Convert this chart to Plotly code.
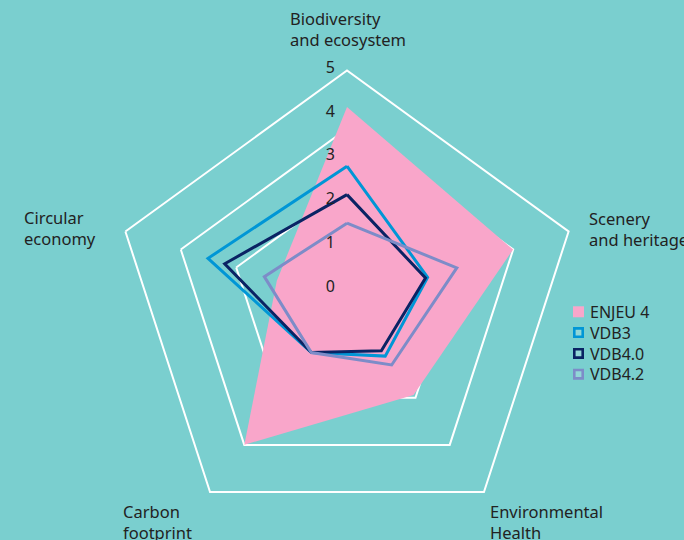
import plotly.graph_objects as go

# ---------------- data ----------------
categories = ["Biodiversity and ecosystem", "Scenery and heritage",
              "Environmental Health", "Carbon footprint", "Circular economy"]
category_labels = ["Biodiversity<br>and ecosystem", "Scenery<br>and heritage",
                   "Environmental<br>Health", "Carbon<br>footprint",
                   "Circular<br>economy"]

series_names = ["ENJEU 4", "VDB3", "VDB4.0", "VDB4.2"]
enjeu4 = [4.1, 3.6, 2.2, 3.6, 1.3]
vdb3 = [2.75, 1.55, 1.1, 1.0, 2.95]
vdb40 = [2.1, 1.5, 0.95, 1.0, 2.55]
vdb42 = [1.45, 2.25, 1.35, 1.0, 1.6]
radial_ticks = [0, 1, 2, 3, 4, 5]
grid_rings = [1, 2, 3]          # inner reference pentagons (outer = 4)

# ---------------- style ----------------
W, H = 684, 540
BG = "#7ACFCF"
TXT = "#222222"
FONT = "Noto Sans"
colors = ["#F9A6CA", "#0096D6", "#0A2364", "#7D8CC8"]

def fx(px):
    return px / W

def fy(py):
    return 1 - py / H

def domain(cx, cy, r):
    return dict(x=[fx(cx - r), fx(cx + r)], y=[fy(cy + r), fy(cy - r)])

fig = go.Figure()

# invisible trace so the grid subplot exists
fig.add_trace(go.Scatterpolar(r=[0] * len(categories), theta=categories,
                              mode="markers", marker=dict(opacity=0),
                              hoverinfo="skip", showlegend=False,
                              subplot="polar"))

series = [enjeu4, vdb3, vdb40, vdb42]
for i, (name, vals) in enumerate(zip(series_names, series)):
    r = vals + [vals[0]]
    th = categories + [categories[0]]
    if i == 0:
        fig.add_trace(go.Scatterpolar(r=r, theta=th, name=name, mode="lines",
                                      fill="toself", fillcolor=colors[i],
                                      line=dict(color=colors[i], width=0),
                                      showlegend=False, subplot="polar2"))
    else:
        fig.add_trace(go.Scatterpolar(r=r, theta=th, name=name, mode="lines",
                                      line=dict(color=colors[i], width=3),
                                      showlegend=False, subplot="polar2"))

CX, CY = 347, 303.5
angular_common = dict(direction="clockwise", rotation=90, showgrid=False,
                      showticklabels=False, ticks="")

fig.update_layout(
    width=W, height=H, autosize=False,
    margin=dict(l=0, r=0, t=0, b=0),
    paper_bgcolor=BG, plot_bgcolor=BG,
    font=dict(family=FONT, color=TXT, size=16),
    showlegend=False,
    polar=dict(
        domain=domain(CX, CY, 233),
        bgcolor="rgba(0,0,0,0)",
        gridshape="linear",
        radialaxis=dict(range=[0, 4], tickvals=grid_rings, showticklabels=False,
                        showline=False, ticks="", gridcolor="white", gridwidth=2),
        angularaxis=dict(showline=True, linecolor="white", linewidth=2,
                         **angular_common),
    ),
    polar2=dict(
        domain=domain(CX, CY, 236),
        bgcolor="rgba(0,0,0,0)",
        gridshape="linear",
        radialaxis=dict(range=[-0.383, 5], tickvals=radial_ticks, showgrid=False,
                        showline=False, ticks="outside", ticklen=6,
                        tickcolor="rgba(0,0,0,0)", angle=90, tickangle=90,
                        side="counterclockwise",
                        tickfont=dict(size=16, color=TXT, family=FONT)),
        angularaxis=dict(showline=False, **angular_common),
    ),
)

# category labels (left-aligned, two lines)
label_anchor = [(288, 29), (587, 228.5), (488, 522), (121, 522), (22, 227.5)]
annotations = []
for (lx, ly), text in zip(label_anchor, category_labels):
    annotations.append(dict(text=text, x=fx(lx), y=fy(ly), align="left",
                            xref="paper", yref="paper", xanchor="left",
                            yanchor="middle", showarrow=False,
                            font=dict(size=16.5, color=TXT, family=FONT)))

# legend: one text block + square swatches aligned with its lines
LEG_FONT = 16
LGAP = LEG_FONT * 1.3
LMID = 343            # vertical middle of the legend block (px)
LX, SW = 578.5, 11
n = len(series_names)
annotations.append(dict(text="<br>".join(series_names), x=fx(588), y=fy(LMID),
                        xref="paper", yref="paper", xanchor="left",
                        yanchor="middle", align="left", showarrow=False,
                        font=dict(size=LEG_FONT, color=TXT, family=FONT)))
shapes = []
for i in range(n):
    yc = LMID + (i - (n - 1) / 2) * LGAP
    if i == 0:
        shapes.append(dict(type="rect", xref="paper", yref="paper",
                           x0=fx(LX - SW / 2), x1=fx(LX + SW / 2),
                           y0=fy(yc + SW / 2), y1=fy(yc - SW / 2),
                           fillcolor=colors[i], line=dict(width=0)))
    else:
        s = SW - 2.6
        shapes.append(dict(type="rect", xref="paper", yref="paper",
                           x0=fx(LX - s / 2), x1=fx(LX + s / 2),
                           y0=fy(yc + s / 2), y1=fy(yc - s / 2),
                           fillcolor="rgba(255,255,255,0.18)",
                           line=dict(color=colors[i], width=2.6)))

fig.update_layout(annotations=annotations, shapes=shapes)
fig.write_html("out.html", config={"displayModeBar": False},
               post_script="document.body.style.margin='0';")
